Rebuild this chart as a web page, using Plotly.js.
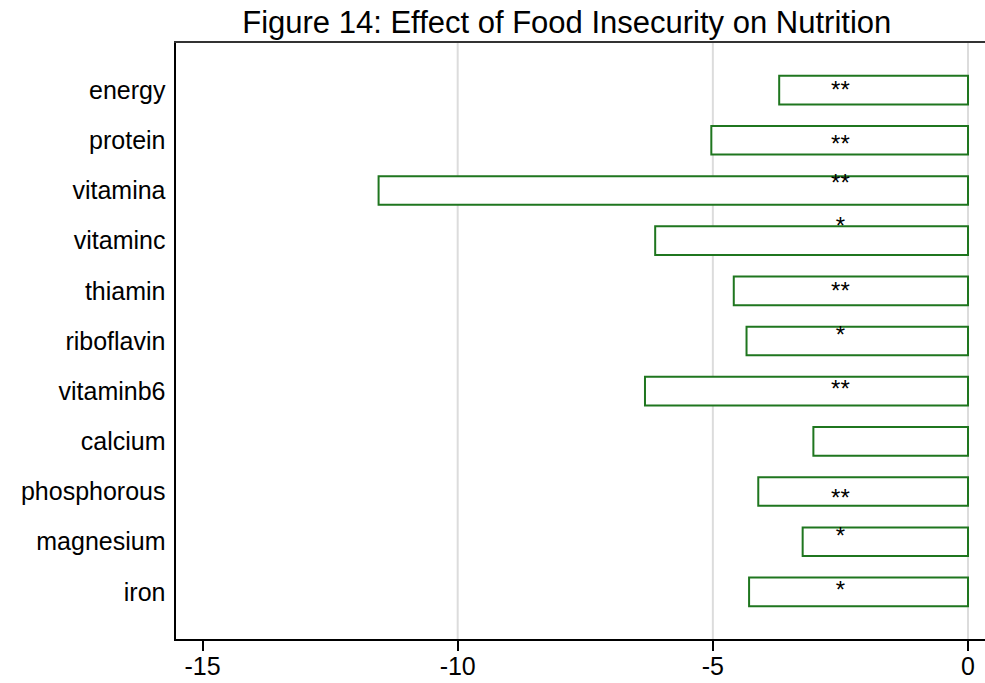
<!DOCTYPE html>
<html>
<head>
<meta charset="utf-8">
<script src="https://cdn.plot.ly/plotly-3.0.1.min.js"></script>
<style>html,body{margin:0;padding:0;background:#fff;}#chart{width:985px;height:683px;}</style>
</head>
<body>
<div id="chart"></div>
<script>
// Data
const categories = ["energy","protein","vitamina","vitaminc","thiamin","riboflavin","vitaminb6","calcium","phosphorous","magnesium","iron"];
const effects = [-3.70,-5.03,-11.55,-6.13,-4.59,-4.34,-6.33,-3.03,-4.11,-3.24,-4.29];
const stars = ["**","**","**","*","**","*","**","","**","*","*"];
// vertical position of each star label (category index units, as seen in the picture)
const starY = [-0.06,1.02,1.79,2.65,3.94,4.82,5.90,7.0,8.07,8.82,9.90];
const starX = -2.5;
const xTicks = [-15,-10,-5,0];
const gridVals = [-10,-5,0];

const idx = categories.map((c,i)=>i);
const green = '#1f761f';
const font = 'Liberation Sans, Arial, sans-serif';

const bars = {
  type:'bar', orientation:'h', x:effects, y:idx, width:0.57,
  marker:{color:'#ffffff', line:{color:green, width:2}},
  hoverinfo:'skip', showlegend:false
};
const starTrace = {
  type:'scatter', mode:'text', x:starY.map(()=>starX), y:starY.map(v=>v+0.1), text:stars,
  textposition:'middle center', textfont:{family:font, size:24, color:'#000'},
  hoverinfo:'skip', showlegend:false
};

const xr = [-15.52, 0.333];
const layout = {
  width:985, height:683,
  margin:{l:176, r:0, t:43, b:44},
  paper_bgcolor:'#fff', plot_bgcolor:'#fff',
  font:{family:font, color:'#000'},
  title:{text:'Figure 14: Effect of Food Insecurity on Nutrition', font:{family:font, size:31, color:'#000'},
         x:0.483, xanchor:'center', y:0.968, yanchor:'middle', xref:'paper', yref:'container'},
  xaxis:{range:xr, tickvals:xTicks, ticktext:xTicks.map(String), ticks:'outside', ticklen:10, tickwidth:2, tickcolor:'#000',
         showgrid:false, zeroline:false, showline:true, linecolor:'#000', linewidth:2, ticklabelstandoff:-6,
         tickfont:{family:font, size:25, color:'#000'}},
  xaxis2:{range:xr, overlaying:'x', side:'top', showline:true, linecolor:'#333', linewidth:2,
          showticklabels:false, ticks:'', showgrid:false, zeroline:false},
  yaxis:{range:[10.94,-0.94], tickvals:idx, ticktext:categories, ticks:'', showgrid:false, zeroline:false,
         showline:true, linecolor:'#000', linewidth:2.5, ticklabelstandoff:3,
         tickfont:{family:font, size:25, color:'#000'}},
  shapes: gridVals.map(v=>({type:'line', xref:'x', yref:'paper', x0:v, x1:v, y0:0, y1:1, layer:'below',
                            line:{color:'#dcdcdc', width:2}})),
  bargap:0
};
const dummyTop = {type:'scatter', x:[], y:[], xaxis:'x2', yaxis:'y', showlegend:false, hoverinfo:'skip'};
Plotly.newPlot('chart', [bars, starTrace, dummyTop], layout, {displayModeBar:false, staticPlot:true});
</script>
</body>
</html>
